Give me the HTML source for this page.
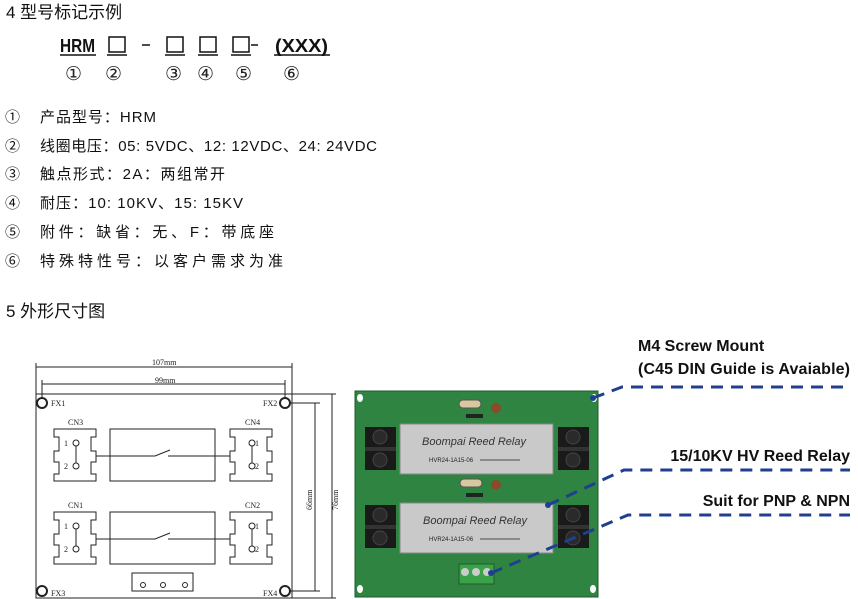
<!DOCTYPE html>
<html><head><meta charset="utf-8"><style>
body{margin:0;background:#fff;width:858px;height:599px;overflow:hidden}
svg{display:block}
.cn{font-family:"Liberation Sans","Noto Sans CJK SC",sans-serif;fill:#111}
.s{font-family:"Liberation Serif",serif;fill:#222}
.b{font-family:"Liberation Sans",sans-serif;font-weight:bold;fill:#111}
</style></head><body>
<svg width="858" height="599" viewBox="0 0 858 599">
<text x="6" y="18" class="cn" font-size="17">4 型号标记示例</text>
<text x="60" y="52" class="b" font-size="18" textLength="35" lengthAdjust="spacingAndGlyphs">HRM</text>
<g fill="none" stroke="#111" stroke-width="1.5">
<rect x="109" y="37" width="16" height="15"/><rect x="167" y="37" width="16" height="15"/>
<rect x="200" y="37" width="16" height="15"/><rect x="233" y="37" width="16" height="15"/>
</g>
<g stroke="#111" stroke-width="1.5">
<line x1="60" y1="55" x2="96" y2="55"/><line x1="107" y1="55" x2="127" y2="55"/>
<line x1="165" y1="55" x2="185" y2="55"/><line x1="198" y1="55" x2="218" y2="55"/>
<line x1="231" y1="55" x2="251" y2="55"/><line x1="274" y1="55" x2="330" y2="55"/>
<line x1="142" y1="45" x2="150" y2="45"/><line x1="251" y1="45" x2="258" y2="45"/>
</g>
<text x="275" y="52" class="b" font-size="18" textLength="53" lengthAdjust="spacingAndGlyphs">(XXX)</text>
<g class="s" font-size="19">
<text x="65" y="80">①</text><text x="105" y="80">②</text><text x="165" y="80">③</text>
<text x="197" y="80">④</text><text x="235" y="80">⑤</text><text x="283" y="80">⑥</text>
</g>
<g class="cn" font-size="15">
<text x="5" y="122">①</text><text x="40" y="122" textLength="116">产品型号：HRM</text>
<text x="5" y="151">②</text><text x="40" y="151" textLength="337">线圈电压：05:  5VDC、12:  12VDC、24: 24VDC</text>
<text x="5" y="179">③</text><text x="40" y="179" textLength="185">触点形式：2A：两组常开</text>
<text x="5" y="208">④</text><text x="40" y="208" textLength="203">耐压：10:  10KV、15:  15KV</text>
<text x="5" y="237">⑤</text><text x="40" y="237" textLength="234">附件：缺省：无、F：带底座</text>
<text x="5" y="266">⑥</text><text x="40" y="266" textLength="243">特殊特性号：以客户需求为准</text>
</g>
<text x="6" y="317" class="cn" font-size="17">5 外形尺寸图</text>

<g stroke="#222" stroke-width="1" fill="none">
<rect x="36" y="394" width="256" height="204"/>
<line x1="36" y1="363" x2="36" y2="394"/><line x1="292" y1="363" x2="292" y2="394"/>
<line x1="36" y1="367" x2="292" y2="367"/>
<line x1="42" y1="380" x2="42" y2="398"/><line x1="285" y1="380" x2="285" y2="398"/>
<line x1="42" y1="384" x2="285" y2="384"/>
<circle cx="42" cy="403" r="5" stroke-width="2"/><circle cx="285" cy="403" r="5" stroke-width="2"/>
<circle cx="42" cy="591" r="5" stroke-width="2"/><circle cx="285" cy="591" r="5" stroke-width="2"/>
<line x1="290" y1="403" x2="320" y2="403"/><line x1="290" y1="591" x2="320" y2="591"/>
<line x1="292" y1="394" x2="336" y2="394"/><line x1="292" y1="598" x2="336" y2="598"/>
<line x1="315" y1="403" x2="315" y2="591"/><line x1="332" y1="394" x2="332" y2="598"/>
<rect x="110" y="429" width="105" height="52"/><rect x="110" y="512" width="105" height="52"/>
<rect x="132" y="573" width="61" height="18"/>
<path d="M110 456 H155 L170 450 M168 456 H230"/>
<path d="M110 539 H155 L170 533 M168 539 H230"/>
<path d="M96 456 H110"/><path d="M96 539 H110"/>
</g>
<g stroke="#222" stroke-width="1" fill="none" id="cnL">
<path d="M54 429 H96 V437 H91 V451 H96 V462 H91 V474 H96 V481 H54 V474 H59 V462 H54 V451 H59 V437 H54 Z"/>
<circle cx="76" cy="443" r="3"/><circle cx="76" cy="466" r="3"/><line x1="76" y1="446" x2="76" y2="463"/>
</g>
<use href="#cnL" transform="translate(176,0)"/>
<use href="#cnL" transform="translate(0,83)"/>
<use href="#cnL" transform="translate(176,83)"/>
<g fill="none" stroke="#222"><circle cx="143" cy="585" r="2.5"/><circle cx="163" cy="585" r="2.5"/><circle cx="185" cy="585" r="2.5"/></g>
<g class="s" font-size="8">
<text x="152" y="365">107mm</text><text x="155" y="383">99mm</text>
<text x="51" y="406">FX1</text><text x="263" y="406">FX2</text>
<text x="51" y="596">FX3</text><text x="263" y="596">FX4</text>
<text x="68" y="425">CN3</text><text x="245" y="425">CN4</text>
<text x="68" y="508">CN1</text><text x="245" y="508">CN2</text>
<text x="64" y="446">1</text><text x="64" y="469">2</text>
<text x="255" y="446">1</text><text x="255" y="469">2</text>
<text x="64" y="529">1</text><text x="64" y="552">2</text>
<text x="255" y="529">1</text><text x="255" y="552">2</text>
<text transform="translate(312,510) rotate(-90)">66mm</text>
<text transform="translate(338,510) rotate(-90)">76mm</text>
</g>

<rect x="355" y="391" width="243" height="206" fill="#2f8442" stroke="#1f5a2c"/>
<g fill="#fff"><ellipse cx="360" cy="398" rx="3" ry="4"/><ellipse cx="594" cy="398" rx="3" ry="4"/><ellipse cx="360" cy="589" rx="3" ry="4"/><ellipse cx="593" cy="589" rx="3" ry="4"/></g>
<g id="tb"><rect x="365" y="427" width="31" height="43" fill="#1a1a1a"/>
<rect x="365" y="447" width="31" height="4" fill="#333"/>
<circle cx="380" cy="437" r="7" fill="#2a2a2a" stroke="#444"/><circle cx="380" cy="460" r="7" fill="#2a2a2a" stroke="#444"/></g>
<use href="#tb" transform="translate(193,0)"/>
<use href="#tb" transform="translate(0,78)"/>
<use href="#tb" transform="translate(193,78)"/>
<rect x="400" y="424" width="153" height="50" fill="#c9c9c9" stroke="#888"/>
<rect x="400" y="503" width="153" height="50" fill="#c9c9c9" stroke="#888"/>
<g font-family="Liberation Sans,sans-serif" font-style="italic" font-size="11" fill="#333">
<text x="422" y="445">Boompai Reed Relay</text><text x="423" y="524">Boompai Reed Relay</text></g>
<g font-family="Liberation Sans,sans-serif" font-size="6" fill="#222">
<text x="429" y="462">HVR24-1A15-06</text><text x="429" y="541">HVR24-1A15-06</text></g>
<g stroke="#222" stroke-width="0.8"><line x1="480" y1="460" x2="520" y2="460"/><line x1="480" y1="539" x2="520" y2="539"/></g>
<rect x="459" y="400" width="22" height="8" rx="4" fill="#d8c8a0" stroke="#555"/>
<circle cx="496" cy="408" r="5" fill="#8b4a2a"/>
<rect x="466" y="414" width="17" height="4" fill="#222"/>
<rect x="460" y="479" width="22" height="8" rx="4" fill="#d8c8a0" stroke="#555"/>
<circle cx="496" cy="485" r="5" fill="#8b4a2a"/>
<rect x="466" y="493" width="17" height="4" fill="#222"/>
<rect x="459" y="564" width="35" height="20" fill="#3aa34a" stroke="#1f5a2c"/>
<g fill="#ccc"><circle cx="465" cy="572" r="4"/><circle cx="476" cy="572" r="4"/><circle cx="487" cy="572" r="4"/></g>

<g stroke="#1f3f8f" stroke-width="3" fill="none" stroke-dasharray="12 8">
<path d="M593 398 L622 387 H850"/>
<path d="M548 505 L624 470 H850"/>
<path d="M491 573 L628 515 H850"/>
</g>
<g fill="#1f3f8f"><circle cx="593" cy="398" r="3"/><circle cx="548" cy="505" r="3"/><circle cx="491" cy="573" r="3"/></g>
<g class="b" font-size="16">
<text x="638" y="351">M4 Screw Mount</text>
<text x="638" y="374" textLength="212">(C45 DIN Guide is Avaiable)</text>
<text x="850" y="461" text-anchor="end">15/10KV HV Reed Relay</text>
<text x="850" y="506" text-anchor="end">Suit for PNP &amp; NPN</text>
</g>
</svg>
</body></html>
